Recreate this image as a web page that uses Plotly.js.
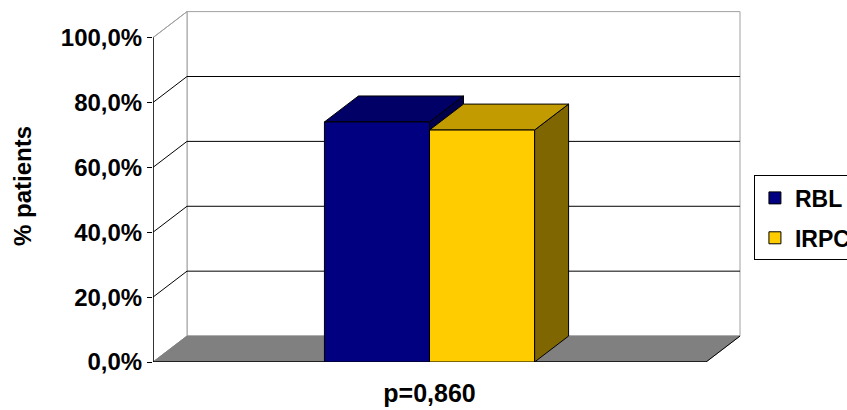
<!DOCTYPE html>
<html>
<head>
<meta charset="utf-8">
<script src="https://cdn.plot.ly/plotly-3.0.1.min.js"></script>
<style>html,body{margin:0;padding:0;background:#fff;}#chart{width:847px;height:410px;}</style>
</head>
<body>
<div id="chart"></div>
<script>
// ---- data ----
const categories = ['p=0,860'];
const seriesNames = ['RBL', 'IRPC'];
const rblValues = [74.0];
const irpcValues = [71.5];
const yTickVals = [0, 20, 40, 60, 80, 100];
const yTickLabels = ['0,0%', '20,0%', '40,0%', '60,0%', '80,0%', '100,0%'];
const yTitle = '% patients';

// ---- style / geometry ----
const frontColors = ['#000080', '#FFCC00'];
const topColors = ['#000066', '#C29B00'];
const sideColors = ['#00004D', '#806600'];
const catCenter = 0.5;
const barW = 0.19;
const offsets = [-0.19, 0];
const dx = 0.0615, dy = 8.0;
const FONT = 'Arial, "Liberation Sans", sans-serif';

const seriesValues = [rblValues, irpcValues];

const traces = seriesNames.map((name, i) => ({
  type: 'bar',
  name: name,
  x: seriesValues[i].map(() => catCenter),
  y: seriesValues[i],
  width: seriesValues[i].map(() => barW),
  offset: seriesValues[i].map(() => offsets[i]),
  legendgroup: 'g' + i,
  marker: {color: frontColors[i], line: {color: '#000', width: 1}},
  hoverinfo: 'skip'
}));

const shapes = [];
const line = (x0, y0, x1, y1, color, w) => shapes.push({type: 'line', xref: 'x', yref: 'y', x0, y0, x1, y1, layer: 'below', line: {color, width: w || 1}});
const poly = (pts, fill, lc) => shapes.push({type: 'path', xref: 'x', yref: 'y', layer: 'below',
  path: 'M' + pts.map(p => p[0] + ',' + p[1]).join(' L') + ' Z', fillcolor: fill, line: {color: lc, width: 1}});

// back wall + side wall
poly([[dx, dy], [1 + dx, dy], [1 + dx, 100 + dy], [dx, 100 + dy]], '#ffffff', '#a0a0a0');
poly([[0, 0], [dx, dy], [dx, 100 + dy], [0, 100]], '#ffffff', '#a0a0a0');
// floor
poly([[0, 0], [1, 0], [1 + dx, dy], [dx, dy]], '#808080', '#808080');
// gridlines
yTickVals.forEach(t => {
  if (t > 0 && t < 100) {
    line(dx, t + dy, 1 + dx, t + dy, '#000', 1);
    line(0, t, dx, t + dy, '#000', 1);
  }
});
line(0, 100, dx, 100 + dy, '#a0a0a0', 1);
// floor edges
line(0, 0, 1, 0, '#000', 1.5);
line(1, 0, 1 + dx, dy, '#000', 1);
line(1, 0, 1, -1.3, '#000', 1);
line(0, 0, 0, -1.3, '#000', 1);
// front axis line
line(0, 0, 0, 100, '#000', 1.5);

// 3D faces of bars, computed from data
seriesNames.forEach((n, i) => {
  seriesValues[i].forEach(v => {
    const x0 = catCenter + offsets[i], x1 = x0 + barW;
    poly([[x1, 0], [x1, v], [x1 + dx, v + dy], [x1 + dx, dy]], sideColors[i], '#000');
    poly([[x0, v], [x1, v], [x1 + dx, v + dy], [x0 + dx, v + dy]], topColors[i], '#000');
  });
});

const layout = {
  width: 847, height: 410,
  margin: {l: 153, r: 106, t: 10, b: 48, autoexpand: false},
  paper_bgcolor: '#fff', plot_bgcolor: 'rgba(0,0,0,0)',
  barmode: 'overlay',
  showlegend: true,
  legend: {
    x: 1.022, xanchor: 'left', y: 0.53, yanchor: 'top',
    bgcolor: '#fff', bordercolor: '#000', borderwidth: 1,
    font: {family: FONT, size: 23, color: '#000', weight: 'bold'},
    traceorder: 'grouped', tracegroupgap: 7, itemwidth: 30
  },
  xaxis: {
    range: [0, 1.0633], showgrid: false, zeroline: false, showline: false,
    tickvals: [catCenter], ticktext: categories, ticks: '', ticklabelstandoff: 14,
    tickfont: {family: FONT, size: 25, color: '#000', weight: 'bold'}, fixedrange: true
  },
  yaxis: {
    range: [0, 108.5], showgrid: false, zeroline: false, showline: false,
    tickvals: yTickVals, ticktext: yTickLabels, ticks: 'outside', ticklen: 5, tickcolor: '#000',
    tickfont: {family: FONT, size: 24, color: '#000', weight: 'bold'},
    title: {text: yTitle, font: {family: FONT, size: 24, color: '#000', weight: 'bold'}, standoff: 22},
    fixedrange: true
  },
  shapes: shapes
};

Plotly.newPlot('chart', traces, layout, {staticPlot: true, displayModeBar: false});
</script>
</body>
</html>
